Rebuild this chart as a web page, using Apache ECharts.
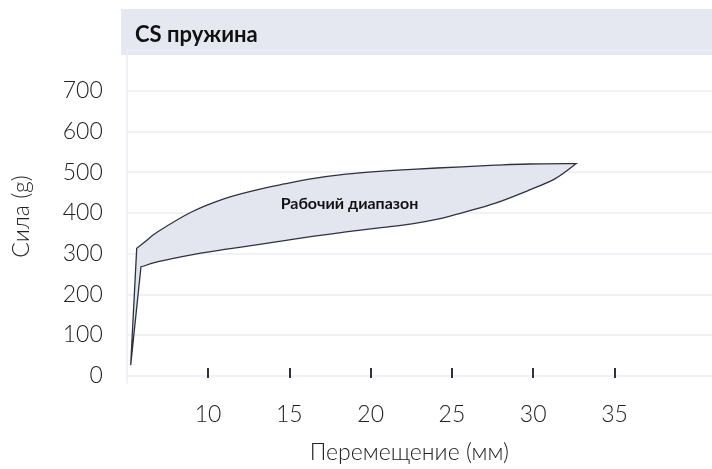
<!DOCTYPE html>
<html>
<head>
<meta charset="utf-8">
<script src="https://cdn.jsdelivr.net/npm/echarts@6/dist/echarts.min.js"></script>
<style>
  html, body { margin: 0; padding: 0; background: #fff; }
  #chart { width: 712px; height: 469px; }
</style>
</head>
<body>
<div id="chart"></div>
<script>
// кривые усилия пружины (мм -> g)
const startPoint = [5.24, 26]
const upperX = [5.61, 6.12, 6.93, 8.98, 11.02, 13.06, 14.70, 16.42, 18.48, 20.52, 22.54, 25.61, 27.68, 29.70, 32.65]
const upperY = [313, 329, 354, 402, 435, 457, 471, 484, 495, 502, 507, 513, 517, 520, 521]
const lowerX = [5.87, 6.93, 8.98, 11.02, 13.06, 14.70, 16.42, 18.48, 20.52, 22.54, 24.2, 25.61, 27.68, 29.70, 31.36, 32.65]
const lowerY = [267, 280, 297, 310, 322, 332, 342, 353, 363, 373, 385, 400, 424, 455, 484, 521]

const xTicks = [10, 15, 20, 25, 30, 35]
const yLabels = [0, 100, 200, 300, 400, 500, 600, 700]
const yLines = [100, 200, 300, 400, 500, 600, 700, 800]

const rangeLabel = 'Рабочий диапазон'
const labelAt = [18.7, 421]

const upper = upperX.map((x, i) => [x, upperY[i]])
const lower = lowerX.map((x, i) => [x, lowerY[i]])

const font = 'Lato, "Noto Sans", sans-serif'
const gridColor = '#eceef6'
const lineColor = '#2e3140'

// сглаживание кривой (catmull-rom -> bezier), возвращает сегменты
function bezierSegs(pts) {
    const segs = []
    const n = pts.length
    for (let i = 0; i < n - 1; i++) {
        const p0 = pts[Math.max(i - 1, 0)]
        const p1 = pts[i]
        const p2 = pts[i + 1]
        const p3 = pts[Math.min(i + 2, n - 1)]
        segs.push([
            p1,
            [p1[0] + (p2[0] - p0[0]) / 6, p1[1] + (p2[1] - p0[1]) / 6],
            [p2[0] - (p3[0] - p1[0]) / 6, p2[1] - (p3[1] - p1[1]) / 6],
            p2
        ])
    }
    return segs
}

const chart = echarts.init(document.getElementById('chart'))

chart.setOption({
    animation: false,
    title: {
        text: 'CS пружина',
        left: 130,
        top: 19,
        textStyle: { fontFamily: font, fontSize: 22, fontWeight: 700, color: '#111' }
    },
    graphic: [{
        type: 'rect',
        z: -10,
        shape: { x: 121, y: 9, width: 591, height: 46 },
        style: { fill: '#e5e8f0' }
    }],
    grid: { left: 126.8, right: 0, top: 50, bottom: 86 },
    xAxis: [{
        type: 'value',
        min: 5,
        max: 41,
        axisLine: { show: true, lineStyle: { color: gridColor, width: 1.5 } },
        axisTick: { show: false },
        axisLabel: { show: false },
        splitLine: { show: false }
    }, {
        type: 'value',
        min: 5,
        max: 41,
        position: 'bottom',
        offset: -5,
        axisLine: { show: false },
        axisTick: {
            show: true, inside: true, length: 10, customValues: xTicks,
            lineStyle: { color: lineColor, width: 2 }
        },
        axisLabel: {
            customValues: xTicks, margin: 25,
            fontFamily: font, fontSize: 23, fontWeight: 300, color: '#222'
        },
        splitLine: { show: false },
        name: 'Перемещение (мм)',
        nameLocation: 'middle',
        nameGap: 63,
        nameTextStyle: {
            fontFamily: font, fontSize: 23, fontWeight: 300, color: '#222',
            padding: [0, 20, 0, 0]
        }
    }],
    yAxis: {
        type: 'value',
        min: -18,
        max: 800,
        axisLine: { show: true, lineStyle: { color: gridColor, width: 1.5 } },
        axisTick: { show: false, customValues: yLines },
        axisLabel: {
            customValues: yLabels, margin: 24,
            fontFamily: font, fontSize: 23, fontWeight: 300, color: '#222'
        },
        splitLine: { show: true, lineStyle: { color: gridColor, width: 1.5 } },
        name: 'Сила (g)',
        nameLocation: 'middle',
        nameGap: 94,
        nameTextStyle: { fontFamily: font, fontSize: 23, fontWeight: 300, color: '#222' }
    },
    series: [{
        // область между кривыми
        type: 'custom',
        data: [[0, 0]],
        renderItem(params, api) {
            const s = api.coord(startPoint)
            const up = bezierSegs(upper.map(p => api.coord(p)))
            const lo = bezierSegs(lower.map(p => api.coord(p)))
            let d = 'M' + s[0] + ' ' + s[1]
            d += ' L' + up[0][0][0] + ' ' + up[0][0][1]
            up.forEach(sg => {
                d += ' C' + sg[1].join(' ') + ' ' + sg[2].join(' ') + ' ' + sg[3].join(' ')
            })
            lo.slice().reverse().forEach(sg => {
                d += ' C' + sg[2].join(' ') + ' ' + sg[1].join(' ') + ' ' + sg[0].join(' ')
            })
            d += ' Z'
            const c = api.coord(labelAt)
            return {
                type: 'group',
                children: [{
                    type: 'path',
                    shape: { pathData: d },
                    style: { fill: '#e3e6ef', stroke: lineColor, lineWidth: 1.3, lineJoin: 'miter' }
                }, {
                    type: 'text',
                    x: c[0],
                    y: c[1],
                    style: {
                        text: rangeLabel,
                        align: 'center',
                        verticalAlign: 'middle',
                        fontFamily: font,
                        fontSize: 16,
                        fontWeight: 700,
                        fill: '#111'
                    }
                }]
            }
        }
    }]
})
</script>
</body>
</html>
